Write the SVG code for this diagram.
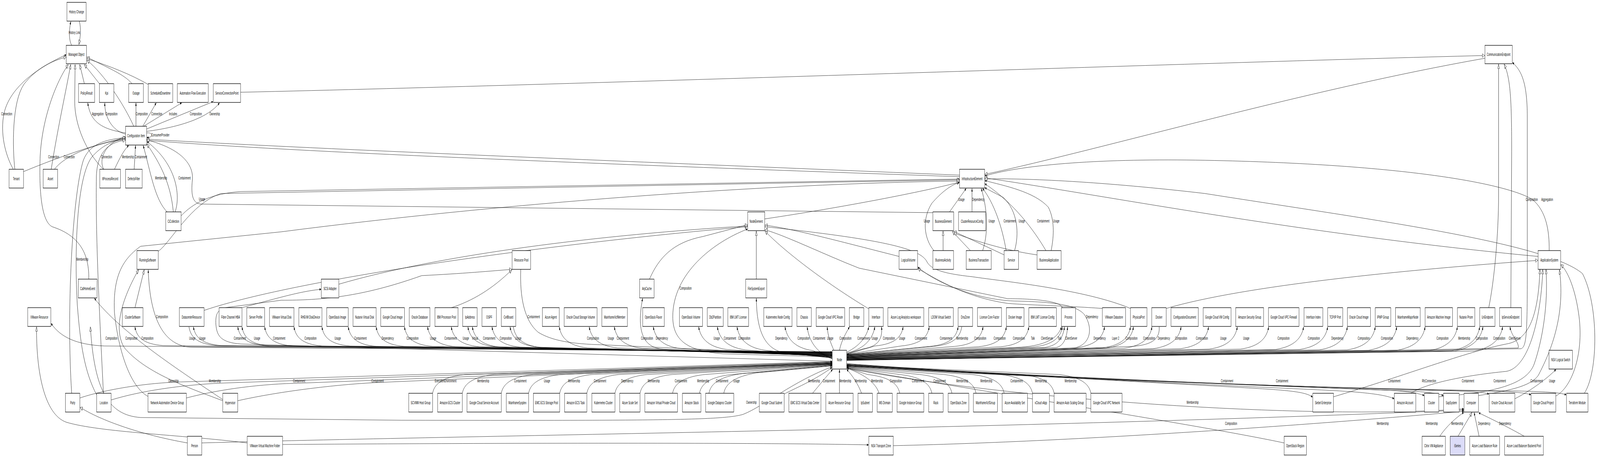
<svg xmlns="http://www.w3.org/2000/svg" width="7967" height="1169" viewBox="0 0 7967 1169" preserveAspectRatio="none">
<style>
svg{width:100vw;height:100vh}
.e{fill:none;stroke:#000;stroke-width:1}
.f{marker-end:url(#a)}
.g{marker-end:url(#h)}
.n rect{fill:#fff;stroke:#000;stroke-width:1.3}
text{font-family:"Liberation Sans",Arial,sans-serif;font-size:10.8px;text-anchor:middle;fill:#000}
</style>
<defs>
<marker id="a" viewBox="0 0 10 8" refX="10" refY="4" markerWidth="8" markerHeight="6.4" orient="auto" markerUnits="userSpaceOnUse"><path d="M0,0 L10,4 L0,8 z" fill="#000"/></marker>
<marker id="h" viewBox="0 0 14 12" refX="13.5" refY="6" markerWidth="14" markerHeight="11" orient="auto" markerUnits="userSpaceOnUse"><path d="M1,1 L13,6 L1,11 z" fill="#fff" stroke="#000" stroke-width="1"/></marker>
</defs>
<rect width="7967" height="1169" fill="#fff"/>
<g id="connectors">
<path class="e g" d="M395,54 C405,75 400,95 393,114"/>
<path class="e f" d="M357,116 C340,100 345,72 353,55"/>
<path class="e g" d="M420,214 L397,165"/>
<path class="e g" d="M495,214 L420,165"/>
<path class="e g" d="M657,214 C620,190 530,172 433,146"/>
<path class="e g" d="M738,216 C650,190 550,170 433,150"/>
<path class="e g" d="M666,323 C620,270 520,190 433,154"/>
<path class="e f" d="M66,433 C25,395 0,340 20,290 C50,220 200,170 330,140"/>
<path class="e g" d="M74,433 C62,380 58,260 120,215 C180,175 260,155 330,146"/>
<path class="e g" d="M255,433 C290,320 330,230 352,165"/>
<path class="e g" d="M515,433 C430,390 372,320 372,260 L374,165"/>
<path class="e g" d="M442,714 C445,640 380,600 260,580 C200,565 195,470 200,400 C210,300 280,210 340,165"/>
<path class="e f" d="M625,340 C500,330 450,310 437,263"/>
<path class="e f" d="M625,343 C560,335 520,300 522,263"/>
<path class="e f" d="M677,323 L677,263"/>
<path class="e f" d="M711,323 L778,263"/>
<path class="e f" d="M715,323 L905,263"/>
<path class="e f" d="M730,330 L1061,260"/>
<path class="e f" d="M730,336 C900,325 1040,300 1093,263"/>
<path class="e f" d="M730,340 C765,338 765,352 731,352"/>
<path class="e f" d="M117,439 C300,400 500,365 624,353"/>
<path class="e f" d="M271,433 C320,400 450,370 624,355"/>
<path class="e f" d="M517,433 C490,410 520,365 624,350"/>
<path class="e f" d="M570,433 C600,400 620,382 641,372"/>
<path class="e f" d="M668,433 L675,372"/>
<path class="e g" d="M357,1006 C330,800 360,500 415,410 C450,362 550,356 624,352"/>
<path class="e g" d="M481,1010 C420,950 400,880 385,780 C370,650 380,450 460,400 C520,366 580,358 624,357"/>
<path class="e g" d="M515,1006 C495,800 475,600 480,450 C485,380 560,362 624,359"/>
<path class="e f" d="M832,542 C770,510 750,440 713,372"/>
<path class="e g" d="M863,542 C850,470 800,420 731,368"/>
<path class="e f" d="M872,542 C900,500 880,420 731,362"/>
<path class="e g" d="M4778,448 C3000,410 1500,380 731,356"/>
<path class="e g" d="M4778,452 C3000,420 1500,390 731,359"/>
<path class="e g" d="M4645,544 L1000,522 C960,520 950,500 958,460 C965,420 900,380 731,358"/>
<path class="e f" d="M902,552 C960,520 1050,495 1200,490 L4777,458"/>
<path class="e g" d="M788,643 C850,620 950,520 1100,495 L4777,460"/>
<path class="e g" d="M737,1014 C650,990 590,900 570,800 C560,700 620,660 700,630 L1400,593 C2500,520 3800,470 4777,463"/>
<path class="e g" d="M3808,560 C4200,530 4600,490 4777,466"/>
<path class="e f" d="M4650,641 C4600,610 4590,560 4640,520 C4690,490 4740,472 4777,467"/>
<path class="e f" d="M4728,542 L4811,482"/>
<path class="e f" d="M4840,542 L4840,482"/>
<path class="e g" d="M4696,641 L4696,591"/>
<path class="e g" d="M4832,641 L4742,592"/>
<path class="e f" d="M4893,641 C4920,600 4920,540 4886,482"/>
<path class="e g" d="M5000,652 L4750,592"/>
<path class="e f" d="M5010,641 C4990,580 4950,520 4893,482"/>
<path class="e f" d="M5052,641 C5075,600 5070,540 4995,505 C4960,495 4930,488 4904,480"/>
<path class="e g" d="M5164,652 C5000,640 4850,615 4750,596"/>
<path class="e f" d="M5208,641 C5150,590 5050,520 4904,470"/>
<path class="e f" d="M5234,641 C5250,600 5250,560 5220,530 C5150,490 5000,475 4904,462"/>
<path class="e g" d="M7394,149 C6500,230 5500,380 4904,446"/>
<path class="e g" d="M1198,236 C3000,215 6000,160 7393,142"/>
<path class="e f" d="M7714,641 C7715,590 7700,540 7630,510 C7500,470 7000,420 6000,410 C5500,405 5100,420 4904,450"/>
<path class="e g" d="M7659,656 C6500,600 5500,500 4904,455"/>
<path class="e g" d="M7889,1006 C7960,950 7960,780 7880,700 C7700,620 6800,560 6000,495 C5500,465 5100,455 4904,458"/>
<path class="e g" d="M5807,789 C6200,730 7000,690 7658,666"/>
<path class="e g" d="M6640,1015 C7000,960 7300,900 7500,880 C7620,870 7660,800 7668,689"/>
<path class="e g" d="M7025,1006 C7100,980 7300,960 7500,950 C7620,940 7675,800 7682,689"/>
<path class="e g" d="M7164,1015 C7400,1005 7600,990 7640,930 C7680,870 7710,780 7698,689"/>
<path class="e g" d="M7362,1012 C7500,1000 7620,990 7660,960 C7700,920 7800,820 7765,690"/>
<path class="e g" d="M7747,1013 C7830,990 7890,900 7860,800 C7840,730 7800,690 7772,677"/>
<path class="e g" d="M1016,794 C1500,710 2800,620 3722,580"/>
<path class="e g" d="M1687,727 C2200,650 3000,600 3722,578"/>
<path class="e g" d="M3234,714 C3280,660 3350,620 3500,605 L3722,575"/>
<path class="e g" d="M3766,714 L3766,591"/>
<path class="e g" d="M4326,790 C4100,720 3900,640 3809,591"/>
<path class="e g" d="M4477,656 C4200,620 3950,585 3809,576"/>
<path class="e g" d="M5629,789 C5400,740 5000,720 4843,708 C4700,700 4640,690 4617,671 C4590,640 4450,615 3809,580"/>
<path class="e g" d="M5290,787 C5280,770 5150,764 5017,764 L4278,686 C4100,650 3900,600 3809,588"/>
<path class="e g" d="M5489,789 C5300,782 5100,780 5017,776 C4800,760 4650,710 4570,687"/>
<path class="e g" d="M2248,787 C2350,770 2450,740 2549,690"/>
<path class="e g" d="M4144,924 L1200,880 C1100,876 1080,860 1075,830 C1072,800 1085,788 1150,785 L1400,768 C1600,768 1800,760 2100,705 C2300,700 2450,693 2549,689"/>
<path class="e g" d="M672,787 L718,690"/>
<path class="e g" d="M1109,1025 C900,985 720,950 620,890 C570,850 590,780 690,690"/>
<path class="e g" d="M7413,787 C7440,720 7462,600 7462,500 L7462,164"/>
<path class="e g" d="M7523,787 L7527,400 C7528,250 7520,200 7490,164"/>
<path class="e f" d="M1205,787 C1400,760 1500,745 1599,740"/>
<path class="e f" d="M1109,1022 C900,950 600,850 470,763"/>
<path class="e f" d="M4144,900 L950,888 C800,884 745,800 738,690"/>
<path class="e f" d="M4144,900 L520,885 C380,882 300,862 254,827"/>
<path class="e f" d="M4144,900 L812,884 C712,880 680,862 672,836"/>
<path class="e f" d="M941,836 C949,862 981,880 1081,884 L4143,901"/>
<path class="e f" d="M4144,901 L1103,884 C1003,880 971,862 963,836"/>
<path class="e f" d="M4144,902 L1324,884 C1224,880 1192,862 1184,836"/>
<path class="e f" d="M4144,902 L1345,885 C1245,881 1213,862 1205,836"/>
<path class="e f" d="M4144,903 L1458,885 C1358,881 1326,862 1318,836"/>
<path class="e f" d="M4144,903 L1604,885 C1504,881 1472,862 1464,836"/>
<path class="e f" d="M4144,904 L1743,885 C1643,881 1611,862 1603,836"/>
<path class="e f" d="M4144,904 L1874,886 C1774,882 1742,862 1734,836"/>
<path class="e f" d="M4144,905 L2013,886 C1913,882 1881,862 1873,836"/>
<path class="e f" d="M4144,905 L2154,886 C2054,882 2022,862 2014,836"/>
<path class="e f" d="M4144,906 L2269,887 C2169,882 2137,862 2129,836"/>
<path class="e f" d="M4144,906 L2387,887 C2287,882 2255,862 2247,836"/>
<path class="e f" d="M4144,907 L2470,887 C2370,883 2338,862 2330,836"/>
<path class="e f" d="M4144,907 L2492,888 C2392,883 2360,862 2352,836"/>
<path class="e f" d="M4144,908 L2590,888 C2490,883 2458,862 2450,836"/>
<path class="e f" d="M4144,908 L2680,888 C2580,883 2548,862 2540,836"/>
<path class="e f" d="M2556,836 C2564,862 2596,884 2696,889 L4143,909"/>
<path class="e f" d="M2593,689 C2588,760 2610,820 2680,850 C2750,872 2850,880 3000,882 L4143,909"/>
<path class="e f" d="M4144,910 L2925,890 C2825,884 2793,862 2785,836"/>
<path class="e f" d="M4144,910 L3074,890 C2974,884 2942,862 2934,836"/>
<path class="e f" d="M4144,911 L3199,891 C3099,885 3067,862 3059,836"/>
<path class="e f" d="M4144,911 L3320,894 C3230,893 3160,870 3200,763"/>
<path class="e f" d="M4144,912 L3393,892 C3293,886 3261,862 3253,836"/>
<path class="e f" d="M4144,913 L3600,905 C3420,898 3350,870 3350,810 C3350,700 3550,620 3722,586"/>
<path class="e f" d="M4144,913 L3619,894 C3519,887 3487,862 3479,836"/>
<path class="e f" d="M4144,914 L3712,895 C3612,888 3580,862 3572,836"/>
<path class="e f" d="M4144,915 L3810,896 C3710,889 3678,862 3670,836"/>
<path class="e f" d="M4144,916 L3900,902 C3800,890 3768,840 3766,763"/>
<path class="e f" d="M4144,917 L4049,897 C3949,890 3917,862 3909,836"/>
<path class="e f" d="M4144,918 C4080,905 4030,880 4019,836"/>
<path class="e f" d="M4152,896 C4135,875 4122,860 4119,836"/>
<path class="e f" d="M4180,896 C4190,870 4215,850 4230,836"/>
<path class="e f" d="M4216,901 C4260,890 4312,870 4326,836"/>
<path class="e f" d="M4216,903 C4290,895 4345,872 4356,836"/>
<path class="e f" d="M4216,905 L4300,892 C4380,886 4395,862 4389,836"/>
<path class="e f" d="M4216,906 L4357,885 C4457,880 4489,862 4497,836"/>
<path class="e f" d="M4216,906 L4487,885 C4587,880 4619,862 4627,836"/>
<path class="e f" d="M4216,907 L4631,886 C4731,881 4763,862 4771,836"/>
<path class="e f" d="M4789,836 C4781,862 4749,881 4649,886 L4217,907"/>
<path class="e f" d="M4216,908 L4755,886 C4855,881 4887,862 4895,836"/>
<path class="e f" d="M4216,908 L4871,887 C4971,882 5003,862 5011,836"/>
<path class="e f" d="M4216,909 L4983,887 C5083,882 5115,862 5123,836"/>
<path class="e f" d="M4216,909 L5085,888 C5200,884 5270,866 5285,836"/>
<path class="e f" d="M4216,910 L5140,888 C5240,883 5282,864 5290,836"/>
<path class="e f" d="M4216,910 L5200,889 C5270,884 5294,864 5300,836"/>
<path class="e f" d="M4216,911 L5260,889 C5300,884 5312,862 5316,836"/>
<path class="e f" d="M4216,912 L5350,890 C5430,882 5445,840 5400,805 C5360,780 5250,772 5050,770 C4850,766 4650,720 4570,683"/>
<path class="e f" d="M4216,912 L5360,890 C5460,882 5492,862 5500,836"/>
<path class="e f" d="M4216,913 L5489,890 C5589,883 5621,862 5629,836"/>
<path class="e f" d="M4216,913 L5504,891 C5604,884 5636,862 5644,836"/>
<path class="e f" d="M4216,914 L5596,891 C5696,884 5728,862 5736,836"/>
<path class="e f" d="M5772,836 C5776,866 5740,882 5640,886 L4217,914"/>
<path class="e f" d="M4216,915 L5741,892 C5841,885 5873,862 5881,836"/>
<path class="e f" d="M4216,915 L5878,892 C5978,885 6010,862 6018,836"/>
<path class="e f" d="M4216,916 L6021,893 C6121,886 6153,862 6161,836"/>
<path class="e f" d="M4216,916 L6177,893 C6277,886 6309,862 6317,836"/>
<path class="e f" d="M4216,917 L6351,894 C6451,886 6483,862 6491,836"/>
<path class="e f" d="M4216,917 L6471,894 C6571,886 6603,862 6611,836"/>
<path class="e f" d="M4216,918 L6569,895 C6669,887 6701,862 6709,836"/>
<path class="e f" d="M4216,918 L6708,895 C6808,887 6840,862 6848,836"/>
<path class="e f" d="M4216,919 L6815,896 C6915,887 6947,862 6955,836"/>
<path class="e f" d="M4216,919 L6956,896 C7056,887 7088,862 7096,836"/>
<path class="e f" d="M4216,920 L7117,897 C7217,888 7249,862 7257,836"/>
<path class="e f" d="M4216,920 L7228,897 C7328,888 7360,862 7368,836"/>
<path class="e f" d="M4216,921 L7244,898 C7344,888 7376,862 7384,836"/>
<path class="e f" d="M4216,921 L7342,898 C7442,888 7474,862 7482,836"/>
<path class="e f" d="M4216,922 L7560,890 C7565,875 7525,860 7519,836"/>
<path class="e f" d="M4216,922 L7575,892 C7600,885 7605,860 7605,700 L7605,300 C7605,210 7575,180 7531,160"/>
<path class="e f" d="M398,1018 C500,1000 700,980 900,977 L4143,925"/>
<path class="e f" d="M554,1023 C700,1000 900,985 1100,980 L4143,926"/>
<path class="e f" d="M928,1018 C1100,995 1300,982 1500,980 L4143,927"/>
<path class="e f" d="M1184,1025 C1400,1000 1700,982 1900,978 L4143,928"/>
<path class="e f" d="M2154,1006 C2162,985 2194,965 2314,958 L4143,929"/>
<path class="e f" d="M2302,1006 C2310,985 2342,965 2462,958 L4143,929"/>
<path class="e f" d="M2496,1006 C2504,985 2536,965 2656,958 L4143,930"/>
<path class="e f" d="M2632,1006 C2640,985 2672,965 2792,958 L4143,930"/>
<path class="e f" d="M2787,1006 C2795,985 2827,965 2947,958 L4143,931"/>
<path class="e f" d="M2922,1006 C2930,985 2962,965 3082,958 L4143,931"/>
<path class="e f" d="M3062,1006 C3070,985 3102,965 3222,958 L4143,932"/>
<path class="e f" d="M3187,1006 C3195,985 3227,965 3347,958 L4143,932"/>
<path class="e f" d="M3349,1006 C3357,985 3389,965 3509,958 L4143,933"/>
<path class="e f" d="M3483,1006 C3491,985 3523,965 3643,958 L4143,934"/>
<path class="e f" d="M3530,1006 C3538,985 3570,965 3690,956 L4143,935"/>
<path class="e f" d="M3604,1006 C3612,985 3644,965 3764,954 L4143,936"/>
<path class="e f" d="M3905,1008 C3950,995 4050,975 4143,940"/>
<path class="e f" d="M4046,1006 C4080,985 4120,960 4146,945"/>
<path class="e f" d="M4180,1006 L4180,945"/>
<path class="e f" d="M4290,1006 C4275,985 4245,960 4216,945"/>
<path class="e f" d="M4377,1006 C4365,985 4320,960 4217,942"/>
<path class="e f" d="M4480,1006 C4472,985 4440,965 4320,958 L4217,941"/>
<path class="e f" d="M4640,1006 C4632,985 4600,965 4480,958 L4217,940"/>
<path class="e f" d="M4740,1006 C4732,985 4700,965 4580,958 L4217,939"/>
<path class="e f" d="M4860,1006 C4852,985 4820,965 4700,958 L4217,938"/>
<path class="e f" d="M5000,1006 C4992,985 4960,965 4840,958 L4217,937"/>
<path class="e f" d="M5141,1006 C5133,985 5101,965 4981,958 L4217,936"/>
<path class="e f" d="M5249,1006 C5241,985 5209,965 5089,958 L4217,935"/>
<path class="e f" d="M5432,1006 C5424,985 5392,965 5272,958 L4217,934"/>
<path class="e f" d="M4216,930 C5000,960 6000,985 6300,995 C6450,1000 6510,1005 6536,1016"/>
<path class="e f" d="M4216,931 C5000,962 6200,988 6600,998 C6800,1003 6900,1010 6942,1020"/>
<path class="e f" d="M4216,932 C5200,965 6500,990 6900,998 C7000,1000 7060,1005 7092,1012"/>
<path class="e f" d="M4216,933 C5200,967 6600,992 7000,1000 C7100,1002 7160,1006 7187,1012"/>
<path class="e f" d="M4216,934 C5300,970 6800,995 7250,1000 C7350,1002 7395,1004 7414,1008"/>
<path class="e f" d="M4216,935 C5300,972 6900,997 7400,1000 C7540,1002 7600,1005 7623,1010"/>
<path class="e f" d="M4216,936 C5300,974 7000,998 7550,1000 C7700,1002 7770,1004 7799,1010"/>
<path class="e f" d="M7543,1020 C7620,1000 7700,970 7748,945"/>
<path class="e f" d="M6394,1133 C6000,1090 5000,1010 4217,941"/>
<path class="e f" d="M4216,942 C5000,1020 6500,1075 7289,1046"/>
<path class="e f" d="M1004,1133 C2500,1112 5000,1098 7289,1049"/>
<path class="e f" d="M1407,1137 C2500,1133 3800,1132 4325,1138"/>
<path class="e f" d="M4448,1140 C5500,1128 6800,1075 7289,1052"/>
<path class="e f" d="M7169,1116 C7200,1092 7250,1068 7289,1055"/>
<path class="e g" d="M7260,1116 L7330,1055"/>
<path class="e f" d="M7365,1116 L7340,1055"/>
<path class="e f" d="M7590,1116 C7500,1090 7420,1070 7363,1056"/>
<path class="e g" d="M4144,938 C3950,975 3800,1040 3700,1060 C3600,1075 3300,1076 2000,1075 L700,1068 C540,1062 470,1000 450,836"/>
<path class="e g" d="M1231,1133 C900,1112 500,1106 330,1080 C220,1060 180,950 182,836"/>
<path class="e g" d="M933,1133 C700,1112 500,1075 399,1042"/>
</g>
<g id="edge-labels">
<text x="370.5" y="86.8">History Link</text>
<text x="33.5" y="294.8">Connection</text>
<text x="487" y="294.8">Aggregation</text>
<text x="555" y="294.8">Composition</text>
<text x="706" y="294.8">Composition</text>
<text x="780.8" y="294.8">Connection</text>
<text x="862" y="294.8">Includes</text>
<text x="975.4" y="294.8">Composition</text>
<text x="1068.8" y="294.8">Ownership</text>
<text x="798.7" y="348.8">ConsumerProvider</text>
<text x="267.4" y="404.8">Connection</text>
<text x="345" y="404.8">Connection</text>
<text x="531" y="404.8">Connection</text>
<text x="637" y="404.8">Membership</text>
<text x="702" y="404.8">Containment</text>
<text x="802" y="458.8">Membership</text>
<text x="918.8" y="458.8">Containment</text>
<text x="1005.8" y="512.8">Usage</text>
<text x="410" y="666.8">Membership</text>
<text x="807" y="813.8">Composition</text>
<text x="2657.6" y="813.8">Containment</text>
<text x="5438" y="813.8">Dependency</text>
<text x="3414" y="740.8">Composition</text>
<text x="4787.5" y="513.8">Usage</text>
<text x="4871" y="513.8">Dependency</text>
<text x="4615.5" y="568.8">Usage</text>
<text x="4938" y="568.8">Usage</text>
<text x="5028" y="568.8">Containment</text>
<text x="5088" y="568.8">Usage</text>
<text x="5194.7" y="568.8">Containment</text>
<text x="5259.7" y="568.8">Usage</text>
<text x="7627.6" y="513.8">Composition</text>
<text x="7704" y="513.8">Aggregation</text>
<text x="555" y="868.8">Composition</text>
<text x="654.5" y="868.8">Composition</text>
<text x="734" y="868.8">Composition</text>
<text x="957.6" y="868.8">Usage</text>
<text x="1007.6" y="868.8">Usage</text>
<text x="1194.6" y="868.8">Containment</text>
<text x="1280" y="868.8">Usage</text>
<text x="1390" y="868.8">Containment</text>
<text x="1546.4" y="868.8">Composition</text>
<text x="1681.7" y="868.8">Usage</text>
<text x="1795" y="868.8">Containment</text>
<text x="1930.8" y="868.8">Dependency</text>
<text x="2054.5" y="868.8">Composition</text>
<text x="2156.7" y="868.8">Usage</text>
<text x="2243.8" y="868.8">Containment</text>
<text x="2319.6" y="868.8">Usage</text>
<text x="2365" y="868.8">Virtual</text>
<text x="2435.7" y="868.8">Containment</text>
<text x="2518.3" y="868.8">Composition</text>
<text x="2580.8" y="868.8">Usage</text>
<text x="2953" y="868.8">Composition</text>
<text x="3041.8" y="868.8">Usage</text>
<text x="3101.6" y="868.8">Containment</text>
<text x="3222" y="868.8">Composition</text>
<text x="3295.8" y="868.8">Dependency</text>
<text x="3568.7" y="868.8">Usage</text>
<text x="3634.7" y="868.8">Containment</text>
<text x="3706.3" y="868.8">Composition</text>
<text x="3890.6" y="868.8">Dependency</text>
<text x="4001.4" y="868.8">Composition</text>
<text x="4078.6" y="868.8">Containment</text>
<text x="4133.8" y="868.8">Usage</text>
<text x="4210" y="868.8">Composition</text>
<text x="4300" y="868.8">Containment</text>
<text x="4355.8" y="868.8">Usage</text>
<text x="4426.5" y="868.8">Composition</text>
<text x="4492" y="868.8">Usage</text>
<text x="4585.8" y="868.8">Containment</text>
<text x="4710.6" y="868.8">Containment</text>
<text x="4791" y="868.8">Membership</text>
<text x="4881" y="868.8">Composition</text>
<text x="4978" y="868.8">Composition</text>
<text x="5073.5" y="868.8">Composition</text>
<text x="5143" y="868.8">Talk</text>
<text x="5213.5" y="868.8">ClientServer</text>
<text x="5276" y="868.8">Talk</text>
<text x="5334" y="868.8">ClientServer</text>
<text x="5475.6" y="868.8">Dependency</text>
<text x="5555" y="868.8">Layer 2</text>
<text x="5634.4" y="868.8">Composition</text>
<text x="5722" y="868.8">Composition</text>
<text x="5795.6" y="868.8">Dependency</text>
<text x="5881.4" y="868.8">Composition</text>
<text x="5985" y="868.8">Composition</text>
<text x="6091.6" y="868.8">Usage</text>
<text x="6205.6" y="868.8">Usage</text>
<text x="6391.3" y="868.8">Composition</text>
<text x="6542" y="868.8">Composition</text>
<text x="6659.5" y="868.8">Dependency</text>
<text x="6790.5" y="868.8">Composition</text>
<text x="6906.5" y="868.8">Composition</text>
<text x="7032.8" y="868.8">Dependency</text>
<text x="7183" y="868.8">Composition</text>
<text x="7290.6" y="868.8">Membership</text>
<text x="7378.5" y="868.8">Composition</text>
<text x="7465.4" y="868.8">Composition</text>
<text x="7542.6" y="868.8">ClientServer</text>
<text x="864" y="977.8">Ownership</text>
<text x="1070" y="977.8">Membership</text>
<text x="1489.7" y="977.8">Containment</text>
<text x="1880" y="977.8">Containment</text>
<text x="2219" y="977.8">ExecutionEnvironment</text>
<text x="2406" y="977.8">Membership</text>
<text x="2591" y="977.8">Containment</text>
<text x="2723.7" y="977.8">Usage</text>
<text x="2858.4" y="977.8">Membership</text>
<text x="2987.6" y="977.8">Containment</text>
<text x="3123.3" y="977.8">Dependency</text>
<text x="3255.3" y="977.8">Membership</text>
<text x="3390.5" y="977.8">Containment</text>
<text x="3501.3" y="977.8">Membership</text>
<text x="3595.6" y="977.8">Containment</text>
<text x="3667.7" y="977.8">Usage</text>
<text x="4053" y="977.8">Membership</text>
<text x="4127.7" y="977.8">Containment</text>
<text x="4209" y="977.8">Membership</text>
<text x="4286" y="977.8">Membership</text>
<text x="4367" y="977.8">Membership</text>
<text x="4461" y="977.8">Composition</text>
<text x="4571.6" y="977.8">Containment</text>
<text x="4678.6" y="977.8">Containment</text>
<text x="4791" y="977.8">Membership</text>
<text x="4911.4" y="977.8">Membership</text>
<text x="5062" y="977.8">Containment</text>
<text x="5183" y="977.8">Membership</text>
<text x="5331" y="977.8">Membership</text>
<text x="6110" y="977.8">Containment</text>
<text x="6384" y="977.8">Containment</text>
<text x="6942.7" y="977.8">Containment</text>
<text x="7116" y="977.8">RfcConnection</text>
<text x="7309.7" y="977.8">Containment</text>
<text x="7467.8" y="977.8">Containment</text>
<text x="7651.5" y="977.8">Containment</text>
<text x="7728.6" y="977.8">Usage</text>
<text x="3741.6" y="1032.8">Ownership</text>
<text x="5938.4" y="1032.8">Membership</text>
<text x="6130" y="1086.8">Composition</text>
<text x="6885" y="1086.8">Membership</text>
<text x="7129.4" y="1086.8">Membership</text>
<text x="7256" y="1086.8">Membership</text>
<text x="7390.6" y="1086.8">Dependency</text>
<text x="7494.4" y="1086.8">Dependency</text>
</g>
<g id="n-history-change" class="n"><rect x="333" y="6" width="96" height="48"/><text x="381" y="33.8">History Change</text></g>
<g id="n-managed-object" class="n"><rect x="330" y="116" width="101" height="47"/><text x="380.5" y="143.3">Managed Object</text></g>
<g id="n-communication-endpoint" class="n"><rect x="7394" y="116" width="136" height="47"/><text x="7462" y="143.3">CommunicationEndpoint</text></g>
<g id="n-policy-result" class="n"><rect x="391" y="214" width="80" height="48"/><text x="431" y="241.8">PolicyResult</text></g>
<g id="n-kpi" class="n"><rect x="495" y="214" width="72" height="48"/><text x="531" y="241.8">Kpi</text></g>
<g id="n-outage" class="n"><rect x="641" y="214" width="73" height="48"/><text x="677.5" y="241.8">Outage</text></g>
<g id="n-scheduled-downtime" class="n"><rect x="738" y="214" width="122" height="48"/><text x="799" y="241.8">ScheduledDowntime</text></g>
<g id="n-automation-flow-execution" class="n"><rect x="883" y="214" width="154" height="48"/><text x="960" y="241.8">Automation Flow Execution</text></g>
<g id="n-service-connection-point" class="n"><rect x="1062" y="214" width="136" height="48"/><text x="1130" y="241.8">ServiceConnectionPoint</text></g>
<g id="n-configuration-item" class="n"><rect x="625" y="323" width="105" height="48"/><text x="677.5" y="350.8">Configuration Item</text></g>
<g id="n-tenant" class="n"><rect x="45" y="433" width="72" height="48"/><text x="81" y="460.8">Tenant</text></g>
<g id="n-asset" class="n"><rect x="215" y="433" width="72" height="48"/><text x="251" y="460.8">Asset</text></g>
<g id="n-itprocessrecord" class="n"><rect x="497" y="433" width="103" height="48"/><text x="548.5" y="460.8">ItProcessRecord</text></g>
<g id="n-defectsfilter" class="n"><rect x="625" y="433" width="83" height="48"/><text x="666.5" y="460.8">DefectsFilter</text></g>
<g id="n-infrastructure-element" class="n"><rect x="4778" y="433" width="125" height="48"/><text x="4840.5" y="460.8">InfrastructureElement</text></g>
<g id="n-cicollection" class="n"><rect x="825" y="542" width="77" height="48"/><text x="863.5" y="569.8">CiCollection</text></g>
<g id="n-node-element" class="n"><rect x="3723" y="542" width="85" height="48"/><text x="3765.5" y="569.8">NodeElement</text></g>
<g id="n-business-element" class="n"><rect x="4645" y="542" width="104" height="48"/><text x="4697" y="569.8">BusinessElement</text></g>
<g id="n-cluster-resource-config" class="n"><rect x="4773" y="542" width="135" height="48"/><text x="4840.5" y="569.8">ClusterResourceConfig</text></g>
<g id="n-running-software" class="n"><rect x="682" y="641" width="106" height="48"/><text x="735" y="668.8">RunningSoftware</text></g>
<g id="n-resource-pool" class="n"><rect x="2550" y="641" width="92" height="48"/><text x="2596" y="668.8">Resource Pool</text></g>
<g id="n-logical-volume" class="n"><rect x="4477" y="641" width="92" height="48"/><text x="4523" y="668.8">LogicalVolume</text></g>
<g id="n-business-activity" class="n"><rect x="4645" y="641" width="103" height="48"/><text x="4696.5" y="668.8">BusinessActivity</text></g>
<g id="n-business-transaction" class="n"><rect x="4811" y="641" width="125" height="48"/><text x="4873.5" y="668.8">BusinessTransaction</text></g>
<g id="n-service" class="n"><rect x="5000" y="641" width="72" height="48"/><text x="5036" y="668.8">Service</text></g>
<g id="n-business-application" class="n"><rect x="5164" y="641" width="120" height="48"/><text x="5224" y="668.8">BusinessApplication</text></g>
<g id="n-application-system" class="n"><rect x="7659" y="641" width="112" height="48"/><text x="7715" y="668.8">ApplicationSystem</text></g>
<g id="n-callhomeevent" class="n"><rect x="390" y="714" width="93" height="48"/><text x="436.5" y="741.8">CallHomeEvent</text></g>
<g id="n-scsi-adapter" class="n"><rect x="1600" y="714" width="87" height="48"/><text x="1643.5" y="741.8">SCSI Adapter</text></g>
<g id="n-arpcache" class="n"><rect x="3185" y="714" width="72" height="48"/><text x="3221" y="741.8">ArpCache</text></g>
<g id="n-filesystemexport" class="n"><rect x="3713" y="714" width="105" height="48"/><text x="3765.5" y="741.8">FileSystemExport</text></g>
<g id="n-vmware-resource" class="n"><rect x="138" y="787" width="115" height="48"/><text x="195.5" y="814.8">VMware Resource</text></g>
<g id="n-cluster-software" class="n"><rect x="609" y="787" width="103" height="48"/><text x="660.5" y="814.8">ClusterSoftware</text></g>
<g id="n-datacenter-resource" class="n"><rect x="893" y="787" width="123" height="48"/><text x="954.5" y="814.8">DatacenterResource</text></g>
<g id="n-fibre-channel-hba" class="n"><rect x="1091" y="787" width="114" height="48"/><text x="1148" y="814.8">Fibre Channel HBA</text></g>
<g id="n-server-profile" class="n"><rect x="1229" y="787" width="89" height="48"/><text x="1273.5" y="814.8">Server Profile</text></g>
<g id="n-vmware-virtual-disk" class="n"><rect x="1342" y="787" width="122" height="48"/><text x="1403" y="814.8">VMware Virtual Disk</text></g>
<g id="n-rhevm-diskdevice" class="n"><rect x="1488" y="787" width="115" height="48"/><text x="1545.5" y="814.8">RHEVM DiskDevice</text></g>
<g id="n-openstack-image" class="n"><rect x="1627" y="787" width="107" height="48"/><text x="1680.5" y="814.8">OpenStack Image</text></g>
<g id="n-nutanix-virtual-disk" class="n"><rect x="1758" y="787" width="115" height="48"/><text x="1815.5" y="814.8">Nutanix Virtual Disk</text></g>
<g id="n-google-cloud-image" class="n"><rect x="1896" y="787" width="118" height="48"/><text x="1955" y="814.8">Google Cloud Image</text></g>
<g id="n-oracle-database" class="n"><rect x="2038" y="787" width="103" height="48"/><text x="2089.5" y="814.8">Oracle Database</text></g>
<g id="n-ibm-processor-pool" class="n"><rect x="2166" y="787" width="115" height="48"/><text x="2223.5" y="814.8">IBM Processor Pool</text></g>
<g id="n-ipaddress" class="n"><rect x="2304" y="787" width="72" height="48"/><text x="2340" y="814.8">IpAddress</text></g>
<g id="n-ospf" class="n"><rect x="2400" y="787" width="72" height="48"/><text x="2436" y="814.8">OSPF</text></g>
<g id="n-cellboard" class="n"><rect x="2496" y="787" width="72" height="48"/><text x="2532" y="814.8">CellBoard</text></g>
<g id="n-azure-agent" class="n"><rect x="2701" y="787" width="84" height="48"/><text x="2743" y="814.8">Azure Agent</text></g>
<g id="n-oracle-cloud-storage-volume" class="n"><rect x="2809" y="787" width="164" height="48"/><text x="2891" y="814.8">Oracle Cloud Storage Volume</text></g>
<g id="n-mainframexcfmember" class="n"><rect x="2997" y="787" width="127" height="48"/><text x="3060.5" y="814.8">MainframeXcfMember</text></g>
<g id="n-openstack-flavor" class="n"><rect x="3200" y="787" width="108" height="48"/><text x="3254" y="814.8">OpenStack Flavor</text></g>
<g id="n-openstack-volume" class="n"><rect x="3383" y="787" width="115" height="48"/><text x="3440.5" y="814.8">OpenStack Volume</text></g>
<g id="n-db2partition" class="n"><rect x="3522" y="787" width="79" height="48"/><text x="3561.5" y="814.8">Db2Partition</text></g>
<g id="n-ibm-lmt-license" class="n"><rect x="3624" y="787" width="104" height="48"/><text x="3676" y="814.8">IBM LMT License</text></g>
<g id="n-kubernetes-node-config" class="n"><rect x="3803" y="787" width="141" height="48"/><text x="3873.5" y="814.8">Kubernetes Node Config</text></g>
<g id="n-chassis" class="n"><rect x="3968" y="787" width="72" height="48"/><text x="4004" y="814.8">Chassis</text></g>
<g id="n-google-cloud-vpc-route" class="n"><rect x="4064" y="787" width="142" height="48"/><text x="4135" y="814.8">Google Cloud VPC Route</text></g>
<g id="n-bridge" class="n"><rect x="4229" y="787" width="72" height="48"/><text x="4265" y="814.8">Bridge</text></g>
<g id="n-interface" class="n"><rect x="4326" y="787" width="72" height="48"/><text x="4362" y="814.8">Interface</text></g>
<g id="n-azure-log-analytics-workspace" class="n"><rect x="4421" y="787" width="179" height="48"/><text x="4510.5" y="814.8">Azure Log Analytics workspace</text></g>
<g id="n-ldom-virtual-switch" class="n"><rect x="4624" y="787" width="123" height="48"/><text x="4685.5" y="814.8">LDOM Virtual Switch</text></g>
<g id="n-dnszone" class="n"><rect x="4771" y="787" width="72" height="48"/><text x="4807" y="814.8">DnsZone</text></g>
<g id="n-license-core-factor" class="n"><rect x="4867" y="787" width="120" height="48"/><text x="4927" y="814.8">License Core Factor</text></g>
<g id="n-docker-image" class="n"><rect x="5011" y="787" width="88" height="48"/><text x="5055" y="814.8">Docker Image</text></g>
<g id="n-ibm-lmt-license-config" class="n"><rect x="5123" y="787" width="137" height="48"/><text x="5191.5" y="814.8">IBM LMT License Config</text></g>
<g id="n-process" class="n"><rect x="5285" y="787" width="71" height="48"/><text x="5320.5" y="814.8">Process</text></g>
<g id="n-vmware-datastore" class="n"><rect x="5489" y="787" width="116" height="48"/><text x="5547" y="814.8">VMware Datastore</text></g>
<g id="n-physicalport" class="n"><rect x="5629" y="787" width="82" height="48"/><text x="5670" y="814.8">PhysicalPort</text></g>
<g id="n-docker" class="n"><rect x="5735" y="787" width="72" height="48"/><text x="5771" y="814.8">Docker</text></g>
<g id="n-configurationdocument" class="n"><rect x="5831" y="787" width="136" height="48"/><text x="5899" y="814.8">ConfigurationDocument</text></g>
<g id="n-google-cloud-vm-config" class="n"><rect x="5991" y="787" width="139" height="48"/><text x="6060.5" y="814.8">Google Cloud VM Config</text></g>
<g id="n-amazon-security-group" class="n"><rect x="6153" y="787" width="139" height="48"/><text x="6222.5" y="814.8">Amazon Security Group</text></g>
<g id="n-google-cloud-vpc-firewall" class="n"><rect x="6316" y="787" width="152" height="48"/><text x="6392" y="814.8">Google Cloud VPC Firewall</text></g>
<g id="n-interface-index" class="n"><rect x="6493" y="787" width="94" height="48"/><text x="6540" y="814.8">Interface Index</text></g>
<g id="n-tcpip-port" class="n"><rect x="6611" y="787" width="75" height="48"/><text x="6648.5" y="814.8">TCP/IP Port</text></g>
<g id="n-oracle-cloud-image" class="n"><rect x="6709" y="787" width="115" height="48"/><text x="6766.5" y="814.8">Oracle Cloud Image</text></g>
<g id="n-ipmp-group" class="n"><rect x="6848" y="787" width="77" height="48"/><text x="6886.5" y="814.8">IPMP Group</text></g>
<g id="n-mainframemajornode" class="n"><rect x="6949" y="787" width="123" height="48"/><text x="7010.5" y="814.8">MainframeMajorNode</text></g>
<g id="n-amazon-machine-image" class="n"><rect x="7096" y="787" width="137" height="48"/><text x="7164.5" y="814.8">Amazon Machine Image</text></g>
<g id="n-nutanix-prism" class="n"><rect x="7257" y="787" width="87" height="48"/><text x="7300.5" y="814.8">Nutanix Prism</text></g>
<g id="n-uriendpoint" class="n"><rect x="7368" y="787" width="76" height="48"/><text x="7406" y="814.8">UriEndpoint</text></g>
<g id="n-ipserviceendpoint" class="n"><rect x="7467" y="787" width="109" height="48"/><text x="7521.5" y="814.8">IpServiceEndpoint</text></g>
<g id="n-node" class="n"><rect x="4144" y="896" width="72" height="48"/><text x="4180" y="923.8">Node</text></g>
<g id="n-nsx-logical-switch" class="n"><rect x="7713" y="896" width="117" height="48"/><text x="7771.5" y="923.8">NSX Logical Switch</text></g>
<g id="n-party" class="n"><rect x="326" y="1006" width="72" height="48"/><text x="362" y="1033.8">Party</text></g>
<g id="n-location" class="n"><rect x="481" y="1006" width="72" height="48"/><text x="517" y="1033.8">Location</text></g>
<g id="n-network-automation-device-group" class="n"><rect x="737" y="1006" width="191" height="48"/><text x="832.5" y="1033.8">Network Automation Device Group</text></g>
<g id="n-hypervisor" class="n"><rect x="1109" y="1006" width="75" height="48"/><text x="1146.5" y="1033.8">Hypervisor</text></g>
<g id="n-scvmm-host-group" class="n"><rect x="2035" y="1006" width="119" height="48"/><text x="2094.5" y="1033.8">SCVMM Host Group</text></g>
<g id="n-amazon-ecs-cluster" class="n"><rect x="2179" y="1006" width="123" height="48"/><text x="2240.5" y="1033.8">Amazon ECS Cluster</text></g>
<g id="n-google-cloud-service-account" class="n"><rect x="2325" y="1006" width="171" height="48"/><text x="2410.5" y="1033.8">Google Cloud Service Account</text></g>
<g id="n-mainframesysplex" class="n"><rect x="2521" y="1006" width="111" height="48"/><text x="2576.5" y="1033.8">MainframeSysplex</text></g>
<g id="n-emc-ecs-storage-pool" class="n"><rect x="2656" y="1006" width="131" height="48"/><text x="2721.5" y="1033.8">EMC ECS Storage Pool</text></g>
<g id="n-amazon-ecs-task" class="n"><rect x="2811" y="1006" width="111" height="48"/><text x="2866.5" y="1033.8">Amazon ECS Task</text></g>
<g id="n-kubernetes-cluster" class="n"><rect x="2947" y="1006" width="115" height="48"/><text x="3004.5" y="1033.8">Kubernetes Cluster</text></g>
<g id="n-azure-scale-set" class="n"><rect x="3086" y="1006" width="101" height="48"/><text x="3136.5" y="1033.8">Azure Scale Set</text></g>
<g id="n-amazon-virtual-private-cloud" class="n"><rect x="3211" y="1006" width="163" height="48"/><text x="3292.5" y="1033.8">Amazon Virtual Private Cloud</text></g>
<g id="n-amazon-stack" class="n"><rect x="3398" y="1006" width="92" height="48"/><text x="3444" y="1033.8">Amazon Stack</text></g>
<g id="n-google-dataproc-cluster" class="n"><rect x="3514" y="1006" width="140" height="48"/><text x="3584" y="1033.8">Google Dataproc Cluster</text></g>
<g id="n-google-cloud-subnet" class="n"><rect x="3781" y="1006" width="124" height="48"/><text x="3843" y="1033.8">Google Cloud Subnet</text></g>
<g id="n-emc-ecs-virtual-data-center" class="n"><rect x="3928" y="1006" width="160" height="48"/><text x="4008" y="1033.8">EMC ECS Virtual Data Center</text></g>
<g id="n-azure-resource-group" class="n"><rect x="4112" y="1006" width="136" height="48"/><text x="4180" y="1033.8">Azure Resource Group</text></g>
<g id="n-ipsubnet" class="n"><rect x="4272" y="1006" width="72" height="48"/><text x="4308" y="1033.8">IpSubnet</text></g>
<g id="n-ms-domain" class="n"><rect x="4368" y="1006" width="75" height="48"/><text x="4405.5" y="1033.8">MS Domain</text></g>
<g id="n-google-instance-group" class="n"><rect x="4467" y="1006" width="133" height="48"/><text x="4533.5" y="1033.8">Google Instance Group</text></g>
<g id="n-rack" class="n"><rect x="4624" y="1006" width="72" height="48"/><text x="4660" y="1033.8">Rack</text></g>
<g id="n-openstack-zone" class="n"><rect x="4721" y="1006" width="103" height="48"/><text x="4772.5" y="1033.8">OpenStack Zone</text></g>
<g id="n-mainframexcfgroup" class="n"><rect x="4847" y="1006" width="120" height="48"/><text x="4907" y="1033.8">MainframeXcfGroup</text></g>
<g id="n-azure-availability-set" class="n"><rect x="4990" y="1006" width="126" height="48"/><text x="5053" y="1033.8">Azure Availability Set</text></g>
<g id="n-vcloud-vapp" class="n"><rect x="5141" y="1006" width="84" height="48"/><text x="5183" y="1033.8">vCloud vApp</text></g>
<g id="n-amazon-auto-scaling-group" class="n"><rect x="5249" y="1006" width="159" height="48"/><text x="5328.5" y="1033.8">Amazon Auto Scaling Group</text></g>
<g id="n-google-cloud-vpc-network" class="n"><rect x="5432" y="1006" width="155" height="48"/><text x="5509.5" y="1033.8">Google Cloud VPC Network</text></g>
<g id="n-siebel-enterprise" class="n"><rect x="6537" y="1006" width="103" height="48"/><text x="6588.5" y="1033.8">Siebel Enterprise</text></g>
<g id="n-amazon-account" class="n"><rect x="6943" y="1006" width="107" height="48"/><text x="6996.5" y="1033.8">Amazon Account</text></g>
<g id="n-cluster" class="n"><rect x="7093" y="1006" width="71" height="48"/><text x="7128.5" y="1033.8">Cluster</text></g>
<g id="n-sapsystem" class="n"><rect x="7188" y="1006" width="78" height="48"/><text x="7227" y="1033.8">SapSystem</text></g>
<g id="n-computer" class="n"><rect x="7290" y="1006" width="72" height="48"/><text x="7326" y="1033.8">Computer</text></g>
<g id="n-oracle-cloud-account" class="n"><rect x="7415" y="1006" width="128" height="48"/><text x="7479" y="1033.8">Oracle Cloud Account</text></g>
<g id="n-google-cloud-project" class="n"><rect x="7624" y="1006" width="123" height="48"/><text x="7685.5" y="1033.8">Google Cloud Project</text></g>
<g id="n-terraform-module" class="n"><rect x="7800" y="1006" width="107" height="48"/><text x="7853.5" y="1033.8">Terraform Module</text></g>
<g id="n-person" class="n"><rect x="933" y="1116" width="72" height="48"/><text x="969" y="1143.8">Person</text></g>
<g id="n-vmware-virtual-machine-folder" class="n"><rect x="1231" y="1116" width="176" height="48"/><text x="1319" y="1143.8">VMware Virtual Machine Folder</text></g>
<g id="n-nsx-transport-zone" class="n"><rect x="4326" y="1116" width="122" height="48"/><text x="4387" y="1143.8">NSX Transport Zone</text></g>
<g id="n-openstack-region" class="n"><rect x="6394" y="1116" width="111" height="48"/><text x="6449.5" y="1143.8">OpenStack Region</text></g>
<g id="n-citrix-vm-appliance" class="n"><rect x="7081" y="1116" width="116" height="48"/><text x="7139" y="1143.8">Citrix VM Appliance</text></g>
<g id="n-iseries" class="n"><rect x="7221" y="1116" width="73" height="48" style="fill:#dcdcf8"/><text x="7257.5" y="1143.8">iSeries</text></g>
<g id="n-azure-load-balancer-rule" class="n"><rect x="7318" y="1116" width="149" height="48"/><text x="7392.5" y="1143.8">Azure Load Balancer Rule</text></g>
<g id="n-azure-load-balancer-backend-pool" class="n"><rect x="7492" y="1116" width="193" height="48"/><text x="7588.5" y="1143.8">Azure Load Balancer Backend Pool</text></g>
</svg>
